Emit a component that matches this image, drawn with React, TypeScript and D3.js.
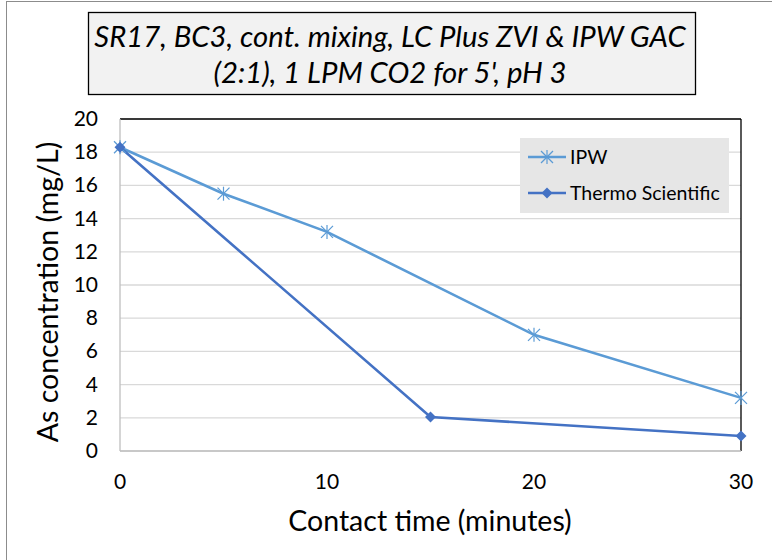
import React from "react";
import * as d3 from "d3";

const ipwTime = [0, 5, 10, 20, 30];
const ipwConc = [18.3, 15.5, 13.2, 7.0, 3.2];
const thermoTime = [0, 15, 30];
const thermoConc = [18.3, 2.05, 0.9];
const xTicks = [0, 10, 20, 30];
const yTicks = [0, 2, 4, 6, 8, 10, 12, 14, 16, 18, 20];
const titleLines = ["SR17, BC3, cont. mixing, LC Plus ZVI & IPW GAC", "(2:1), 1 LPM CO2 for 5', pH 3"];
const seriesNames = ["IPW", "Thermo Scientific"];

const FONT = "Lato, 'Open Sans', sans-serif";
const C_IPW = "#5B9BD5";
const C_TH = "#4472C4";

export default function App() {
  const W = 772, H = 560;
  const x = d3.scaleLinear().domain([0, 30]).range([120, 741]);
  const y = d3.scaleLinear().domain([0, 20]).range([451, 119]);
  const line = d3.line<[number, number]>().x(d => x(d[0])).y(d => y(d[1]));
  const ipw: [number, number][] = ipwTime.map((t, i) => [t, ipwConc[i]]);
  const th: [number, number][] = thermoTime.map((t, i) => [t, thermoConc[i]]);

  const star = (cx: number, cy: number, color: string, key: string) => {
    const r = 6;
    return (
      <g key={key} stroke={color} strokeWidth={1.2}>
        <line x1={cx - r} y1={cy - r} x2={cx + r} y2={cy + r} />
        <line x1={cx - r} y1={cy + r} x2={cx + r} y2={cy - r} />
        <line x1={cx} y1={cy - r - 1} x2={cx} y2={cy + r + 1} />
      </g>
    );
  };
  const diamond = (cx: number, cy: number, color: string, key: string) => {
    const r = 5.5;
    return (
      <path key={key} d={`M${cx},${cy - r}L${cx + r},${cy}L${cx},${cy + r}L${cx - r},${cy}Z`} fill={color} />
    );
  };

  return (
    <svg width={W} height={H} style={{ position: "absolute", left: 0, top: 0 }}>
      <rect x={0} y={0} width={W} height={H} fill="#fff" />
      <rect x={6.5} y={1.5} width={W + 10} height={H + 10} fill="none" stroke="#8c8c8c" strokeWidth={1} />
      {/* title */}
      <rect x={88.5} y={12.5} width={607} height={82} fill="#f2f2f2" stroke="#000" strokeWidth={1.3} />
      {titleLines.map((t, i) => (
        <text key={i} x={390} y={47 + i * 36} textAnchor="middle" fontFamily={FONT} fontStyle="italic" fontSize={29.3} fill="#000">
          {t}
        </text>
      ))}
      {/* gridlines */}
      {yTicks.map(v => (
        <line key={v} x1={120} x2={741} y1={y(v)} y2={y(v)} stroke="#d9d9d9" strokeWidth={1.3} />
      ))}
      {/* plot border top/right black */}
      <line x1={120} x2={741} y1={y(20)} y2={y(20)} stroke="#000" strokeWidth={1.3} />
      <line x1={741} x2={741} y1={y(20)} y2={y(0)} stroke="#000" strokeWidth={1.3} />
      {/* axes */}
      <line x1={120} x2={120} y1={y(20)} y2={y(0)} stroke="#bfbfbf" strokeWidth={1.3} />
      <line x1={120} x2={741} y1={y(0)} y2={y(0)} stroke="#bfbfbf" strokeWidth={1.3} />
      {yTicks.map(v => (
        <text key={v} x={98} y={y(v) + 7} textAnchor="end" fontFamily={FONT} fontSize={21} fill="#000">{v}</text>
      ))}
      {xTicks.map(v => (
        <text key={v} x={x(v)} y={489} textAnchor="middle" fontFamily={FONT} fontSize={21} fill="#000">{v}</text>
      ))}
      <text x={430} y={531} textAnchor="middle" fontFamily={FONT} fontSize={28.5} fill="#000">Contact time (minutes)</text>
      <text transform={`translate(58,292) rotate(-90)`} textAnchor="middle" fontFamily={FONT} fontSize={28.5} fill="#000">As concentration (mg/L)</text>
      {/* series */}
      <path d={line(ipw) || ""} fill="none" stroke={C_IPW} strokeWidth={2.6} />
      <path d={line(th) || ""} fill="none" stroke={C_TH} strokeWidth={2.6} />
      {ipw.map((d, i) => star(x(d[0]), y(d[1]), C_IPW, "s" + i))}
      {th.map((d, i) => diamond(x(d[0]), y(d[1]), C_TH, "d" + i))}
      {/* legend */}
      <rect x={520} y={138} width={209} height={75} fill="#e6e6e6" />
      <line x1={528} x2={566} y1={157} y2={157} stroke={C_IPW} strokeWidth={2.6} />
      {star(547, 157, C_IPW, "ls")}
      <text x={570} y={164} fontFamily={FONT} fontSize={19.5} fill="#000">{seriesNames[0]}</text>
      <line x1={528} x2={566} y1={193} y2={193} stroke={C_TH} strokeWidth={2.6} />
      {diamond(547, 193, C_TH, "ld")}
      <text x={570} y={200} fontFamily={FONT} fontSize={19.5} fill="#000">{seriesNames[1]}</text>
    </svg>
  );
}
